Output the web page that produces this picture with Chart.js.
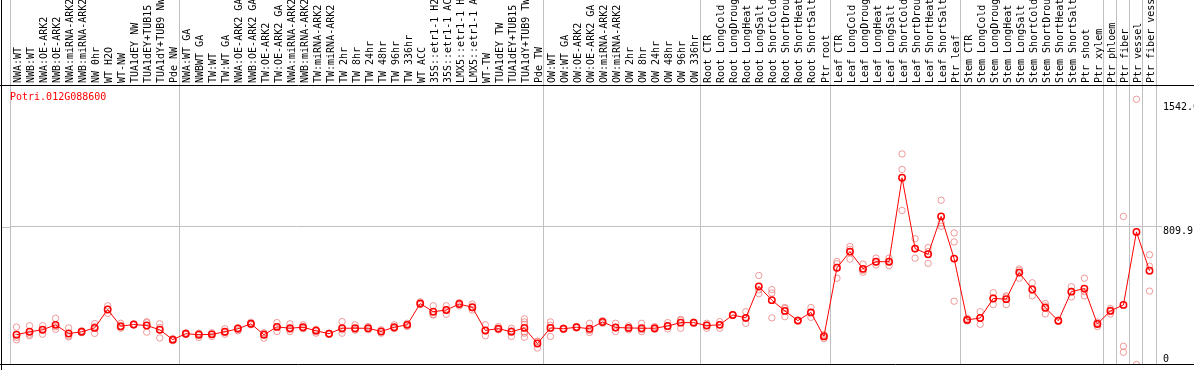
<!DOCTYPE html>
<html>
<head>
<meta charset="utf-8">
<script src="https://cdn.jsdelivr.net/npm/chart.js@4.4.1/dist/chart.umd.min.js"></script>
<style>
  html, body { margin: 0; padding: 0; background: #fff; }
  canvas { display: block; }
</style>
</head>
<body>
<canvas id="exprChart" width="1194" height="370"></canvas>
<script>
// Gene shown in the plot
const geneName = 'Potri.012G088600';

// Sample names (one column each)
const sampleLabels = [
  'NWA:WT', 'NWB:WT', 'NWA:OE-ARK2', 'NWB:OE-ARK2', 'NWA:miRNA-ARK2', 'NWB:miRNA-ARK2',
  'NW 0hr', 'WT H2O', 'WT-NW', 'TUA1dEY NW', 'TUA1dEY+TUB15 NW', 'TUA1dY+TUB9 NW', 'Pde NW',
  'NWA:WT GA', 'NWBWT GA', 'TW:WT', 'TW:WT GA', 'NWA:OE-ARK2 GA', 'NWB:OE-ARK2 GA',
  'TW:OE-ARK2', 'TW:OE-ARK2 GA', 'NWA:miRNA-ARK2 GA', 'NWB:miRNA-ARK2 GA', 'TW:miRNA-ARK2',
  'TW:miRNA-ARK2 GA', 'TW 2hr', 'TW 8hr', 'TW 24hr', 'TW 48hr', 'TW 96hr', 'TW 336hr', 'WT ACC',
  '35S::etr1-1 H2O', '35S::etr1-1 ACC', 'LMX5::etr1-1 H2O', 'LMX5::etr1-1 ACC', 'WT-TW',
  'TUA1dEY TW', 'TUA1dEY+TUB15 TW', 'TUA1dY+TUB9 TW', 'Pde TW',
  'OW:WT', 'OW:WT GA', 'OW:OE-ARK2', 'OW:OE-ARK2 GA', 'OW:miRNA-ARK2', 'OW:miRNA-ARK2 GA',
  'OW 2hr', 'OW 8hr', 'OW 24hr', 'OW 48hr', 'OW 96hr', 'OW 336hr',
  'Root CTR', 'Root LongCold', 'Root LongDrought', 'Root LongHeat', 'Root LongSalt',
  'Root ShortCold', 'Root ShortDrought', 'Root ShortHeat', 'Root ShortSalt', 'Ptr root',
  'Leaf CTR', 'Leaf LongCold', 'Leaf LongDrought', 'Leaf LongHeat', 'Leaf LongSalt',
  'Leaf ShortCold', 'Leaf ShortDrought', 'Leaf ShortHeat', 'Leaf ShortSalt', 'Ptr leaf',
  'Stem CTR', 'Stem LongCold', 'Stem LongDrought', 'Stem LongHeat', 'Stem LongSalt',
  'Stem ShortCold', 'Stem ShortDrought', 'Stem ShortHeat', 'Stem ShortSalt', 'Ptr shoot', 'Ptr xylem',
  'Ptr phloem', 'Ptr fiber', 'Ptr vessel', 'Ptr fiber vessel'
];

// Mean expression per sample
const meanValues = [
  175, 192, 204, 233, 182, 192, 215, 323, 225, 235, 229, 204, 146,
  181, 175, 177, 192, 210, 239, 175, 221, 213, 219, 198, 181, 213, 213, 213, 194, 219, 233,
  358, 310, 320, 355, 336, 200, 211, 192, 215, 123,
  215, 210, 219, 210, 250, 217, 215, 213, 213, 226, 246, 246,
  229, 233, 291, 274, 459, 378, 315, 258, 306, 165,
  568, 663, 562, 604, 604, 1097, 681, 648, 870, 622,
  262, 273, 388, 384, 540, 441, 333, 257, 428, 446, 238,
  315, 350, 779, 551
];

// Single replicates per sample
const replicateValues = [
  [220, 160, 145], [228, 178, 169], [228, 178, 204], [271, 207, 222], [215, 168, 162],
  [198, 187, 191], [240, 223, 183], [345, 325, 300], [242, 213, 220], [235, 232, 238],
  [246, 190, 251], [239, 217, 156], [146, 140, 152],
  [186, 176, 181], [184, 159, 182], [187, 165, 179], [210, 178, 188], [217, 198, 215],
  [248, 233, 236], [184, 155, 186], [246, 194, 223], [239, 194, 206], [233, 210, 214],
  [204, 184, 206], [181, 178, 184], [252, 184, 203], [233, 204, 202], [223, 204, 212],
  [204, 184, 194], [233, 210, 214], [242, 223, 234], [368, 352, 354], [345, 294, 291],
  [345, 320, 295], [364, 345, 356], [355, 320, 333], [233, 169, 198], [223, 204, 206],
  [213, 165, 198], [268, 250, 236, 184, 160, 192], [136, 97, 136],
  [250, 230, 165], [210, 206, 214], [219, 215, 223], [242, 188, 200], [258, 242, 250],
  [242, 194, 215], [227, 204, 214], [242, 204, 193], [223, 207, 209], [246, 223, 209],
  [265, 213, 260], [246, 243, 249],
  [242, 213, 232], [252, 213, 234], [291, 288, 294], [310, 242, 270], [523, 416, 438],
  [440, 420, 274], [335, 281, 329], [258, 255, 261], [335, 306, 277], [175, 152, 168],
  [605, 507, 592], [693, 619, 677], [590, 542, 554], [625, 584, 603], [625, 580, 607],
  [1237, 1146, 905], [739, 625, 679], [687, 594, 663], [965, 812, 833], [773, 720, 372],
  [271, 256, 259], [310, 236, 273], [422, 352, 390], [403, 352, 397], [561, 507, 552],
  [480, 403, 440], [358, 297, 344], [257, 254, 260], [430, 397, 457], [507, 403, 428],
  [242, 223, 249],
  [329, 297, 319], [870, 107, 72], [1558, 0], [645, 577, 431]
];

// Column indexes where a tissue group starts (grey separators)
const groupBreaks = [0, 13, 41, 53, 63, 73, 84, 85, 86, 87, 88];

// Right axis
const yTickValues = [0, 809.9, 1542.6];
const yTickLabels = ['0', '809.9', '1542.6'];
const yMax = 1642;

const gridGrey = '#c0c0c0';
const monoFont = 'DejaVu Sans Mono';

// black frame, left part of the middle gridline, y labels and the gene name
const framePlugin = {
  id: 'frame',
  afterDraw(chart) {
    const { ctx, chartArea, width, height } = chart;
    const yScale = chart.scales.y;
    ctx.save();
    ctx.lineWidth = 1;
    ctx.strokeStyle = gridGrey;
    const midY = Math.round(yScale.getPixelForValue(yTickValues[1])) + 0.5;
    ctx.beginPath();
    ctx.moveTo(2, midY);
    ctx.lineTo(chartArea.left, midY);
    ctx.stroke();

    ctx.strokeStyle = '#000';
    ctx.beginPath();
    ctx.moveTo(0, chartArea.top + 0.5);
    ctx.lineTo(width, chartArea.top + 0.5);
    ctx.moveTo(0, chartArea.bottom);
    ctx.lineTo(width, chartArea.bottom);
    ctx.moveTo(1.5, 0);
    ctx.lineTo(1.5, height);
    ctx.stroke();

    ctx.font = '10px "' + monoFont + '"';
    ctx.textBaseline = 'middle';
    ctx.fillStyle = '#000';
    yTickValues.forEach((v, i) => {
      const py = yScale.getPixelForValue(v);
      ctx.fillText(yTickLabels[i], chartArea.right + 7, i === 0 ? py - 5 : py + 5);
    });

    ctx.fillStyle = '#ff0000';
    ctx.textBaseline = 'top';
    ctx.fillText(geneName, chartArea.left, chartArea.top + 7);
    ctx.restore();
  }
};

const replicatePoints = replicateValues.flatMap((vals, i) =>
  vals.map(v => ({ x: sampleLabels[i], y: v })));

new Chart(document.getElementById('exprChart').getContext('2d'), {
  type: 'line',
  data: {
    labels: sampleLabels,
    datasets: [{
      label: 'mean',
      data: meanValues,
      borderColor: '#ff0000',
      borderWidth: 1,
      tension: 0,
      pointStyle: 'circle',
      pointRadius: 3.2,
      pointBorderWidth: 1.5,
      pointBorderColor: '#ff0000',
      pointBackgroundColor: 'rgba(0,0,0,0)'
    }, {
      label: 'replicates',
      data: replicatePoints,
      showLine: false,
      clip: 0,
      pointStyle: 'circle',
      pointRadius: 3.2,
      pointBorderWidth: 1,
      pointBorderColor: 'rgba(232,120,120,0.75)',
      pointBackgroundColor: 'rgba(0,0,0,0)'
    }]
  },
  options: {
    responsive: false,
    animation: false,
    events: [],
    layout: { padding: { left: 10, right: 0, top: 0, bottom: 1.5 } },
    plugins: { legend: { display: false }, tooltip: { enabled: false } },
    scales: {
      x: {
        position: 'top',
        offset: true,
        afterFit(scale) {
          scale.height = 85;
          scale.paddingLeft = 0;
          scale.paddingRight = 0;
        },
        grid: {
          offset: true,
          drawOnChartArea: true,
          drawTicks: true,
          tickLength: 85,
          lineWidth: 1,
          color: ctx => (ctx.type !== 'tick' || groupBreaks.includes(ctx.index)) ? gridGrey : 'rgba(0,0,0,0)'
        },
        border: { display: false },
        ticks: {
          autoSkip: false,
          minRotation: 90,
          maxRotation: 90,
          padding: -83,
          labelOffset: 14,
          color: '#000',
          font: { family: monoFont, size: 10 }
        }
      },
      y: {
        position: 'right',
        min: 0,
        max: yMax,
        afterBuildTicks(scale) {
          scale.ticks = yTickValues.map(v => ({ value: v }));
        },
        afterFit(scale) {
          scale.width = 38;
          scale.paddingTop = 0;
          scale.paddingBottom = 0;
        },
        grid: {
          drawTicks: true,
          tickLength: 6,
          color: ctx => (ctx.tick && ctx.tick.value === yTickValues[1]) ? gridGrey : 'rgba(0,0,0,0)'
        },
        border: { display: false },
        ticks: { display: false }
      }
    }
  },
  plugins: [framePlugin]
});
</script>
</body>
</html>
